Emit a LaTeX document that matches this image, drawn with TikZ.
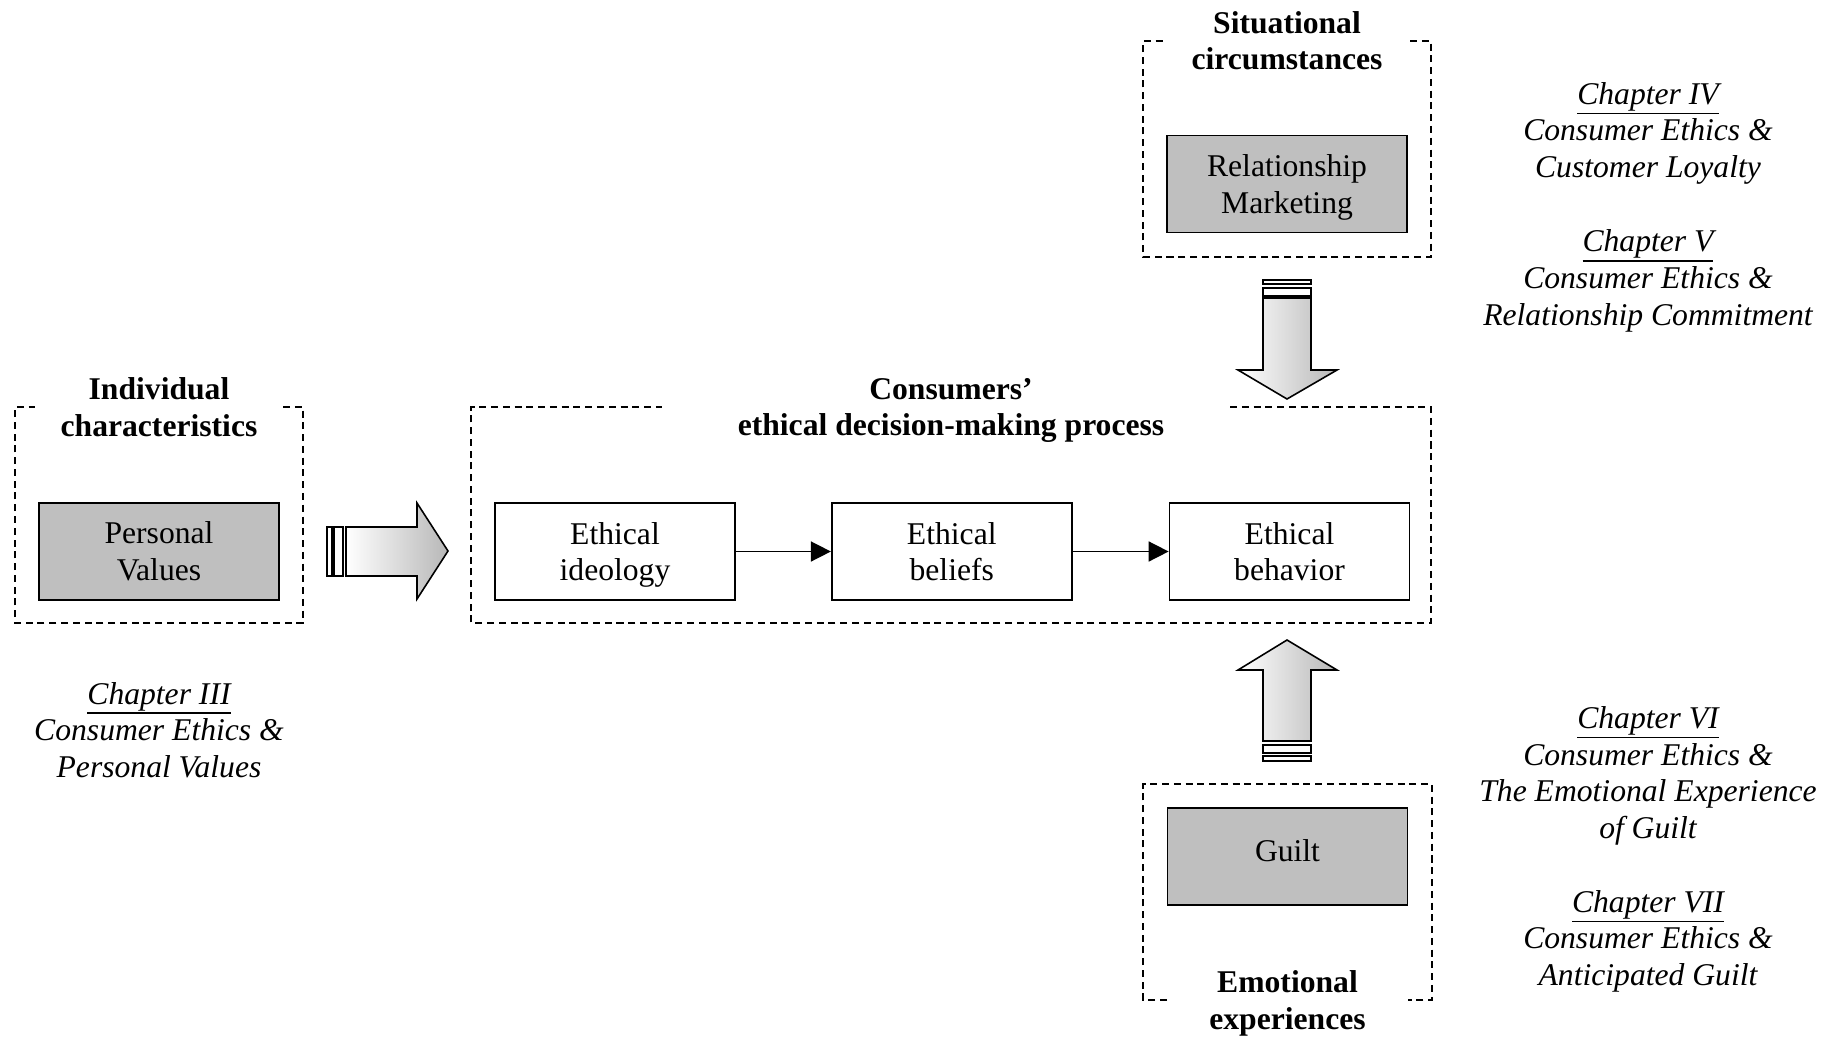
\documentclass[tikz,border=0pt]{standalone}
\usepackage{fontspec}
\setmainfont{Liberation Serif}
\usepackage{tikz}
\usetikzlibrary{arrows.meta,positioning}
\newcommand\nodepth[1]{\raisebox{0pt}[\height][0pt]{#1}}
\newcommand\chapul[1]{\setbox0\hbox{#1}\rlap{\rule[-2.8pt]{\wd0}{0.45pt}}\box0}
\tikzset{%
          txt/.style = { font=\fontsize{9}{10.4}\selectfont, align=center },
          box/.style = { txt, draw, line width=0.5pt, minimum width=2.4cm, minimum height=0.97cm, inner sep=0pt },
      greybox/.style = { box, fill=black!25 },
      dashbox/.style = { line width=0.45pt, dash pattern=on 2pt off 1.35pt },
        title/.style = { txt, font=\fontsize{9}{10.4}\selectfont\bfseries },
      chapter/.style = { txt, font=\fontsize{9}{10.4}\selectfont\itshape },
     fatarrow/.style = { line width=0.45pt, line join=miter, left color=white, right color=black!28 },
     arrowbar/.style = { line width=0.45pt, fill=white }
}

\begin{document}
\begin{tikzpicture}[x=1.0cm,y=1.0cm,>={Triangle[length=2mm,width=2mm]},line width=0.45pt]
\useasboundingbox (0,0) rectangle (18.36,10.38);
%\draw[step=1cm,gray,very thin] (0,0) grid (18,10);

% individual characteristics
\draw[dashbox] (2.83,6.31) -- (3.03,6.31) -- (3.03,4.15) -- (0.15,4.15) -- (0.15,6.31) -- (0.35,6.31);
\node[title] (indiv) at (1.59,6.31) {Individual\\characteristics};
\node[greybox] (values) at (1.59,4.865) {Personal\\Values};
\node[chapter] (ch3) at (1.59,3.08) {\chapul{Chapter III}\\Consumer Ethics \&\\Personal Values};

% decision-making process
\draw[dashbox] (12.30,6.31) -- (14.31,6.31) -- (14.31,4.15) -- (4.71,4.15) -- (4.71,6.31) -- (6.62,6.31);
\node[title] (process) at (9.51,6.31) {Consumers’\\\nodepth{ethical decision-making process}};
\node[box] (ideology) at (6.15,4.865) {Ethical\\\nodepth{ideology}};
\node[box,right=0.95cm of ideology] (beliefs) {Ethical\\beliefs};
\node[box,right=0.96cm of beliefs] (behavior) {Ethical\\behavior};
\draw[->] (ideology) -- (beliefs);
\draw[->] (beliefs) -- (behavior);

% situational circumstances
\draw[dashbox] (14.10,9.97) -- (14.31,9.97) -- (14.31,7.81) -- (11.43,7.81) -- (11.43,9.97) -- (11.63,9.97);
\node[title] (situ) at (12.87,9.975) {Situational\\circumstances};
\node[greybox] (relmark) at (12.87,8.54) {Relationship\\\nodepth{Marketing}};

% emotional experiences
\draw[dashbox] (11.67,0.38) -- (11.43,0.38) -- (11.43,2.54) -- (14.32,2.54) -- (14.32,0.38) -- (14.08,0.38);
\node[title] (emo) at (12.875,0.38) {Emotional\\\nodepth{experiences}};
\node[greybox] (guilt) at (12.875,1.815) {\raisebox{1.6pt}[\height]{Guilt}};

% chapters
\node[chapter] (ch4) at (16.48,9.08) {\chapul{Chapter IV}\\Consumer Ethics \&\\\nodepth{Customer Loyalty}};
\node[chapter] (ch5) at (16.48,7.605) {\chapul{Chapter V}\\Consumer Ethics \&\\\nodepth{Relationship Commitment}};
\node[chapter] (ch6) at (16.48,2.655) {\chapul{Chapter VI}\\Consumer Ethics \&\\The Emotional Experience\\\nodepth{of Guilt}};
\node[chapter] (ch7) at (16.48,1.00) {\chapul{Chapter VII}\\Consumer Ethics \&\\\nodepth{Anticipated Guilt}};

% block arrows
\draw[arrowbar] (3.27,5.11) rectangle (3.32,4.62);
\draw[arrowbar] (3.34,5.11) rectangle (3.43,4.62);
\draw[fatarrow] (3.46,5.11) -- (4.17,5.11) -- (4.17,5.35) -- (4.48,4.87) -- (4.17,4.39) -- (4.17,4.62) -- (3.46,4.62) -- cycle;

\draw[arrowbar] (12.63,7.58) rectangle (13.11,7.54);
\draw[arrowbar] (12.63,7.50) rectangle (13.11,7.42);
\draw[fatarrow] (12.63,7.40) -- (12.63,6.68) -- (12.38,6.68) -- (12.87,6.39) -- (13.37,6.68) -- (13.11,6.68) -- (13.11,7.40) -- cycle;

\draw[arrowbar] (12.63,2.77) rectangle (13.11,2.82);
\draw[arrowbar] (12.63,2.85) rectangle (13.11,2.93);
\draw[fatarrow] (12.63,2.97) -- (12.63,3.68) -- (12.38,3.68) -- (12.87,3.98) -- (13.37,3.68) -- (13.11,3.68) -- (13.11,2.97) -- cycle;
\end{tikzpicture}
\end{document}
